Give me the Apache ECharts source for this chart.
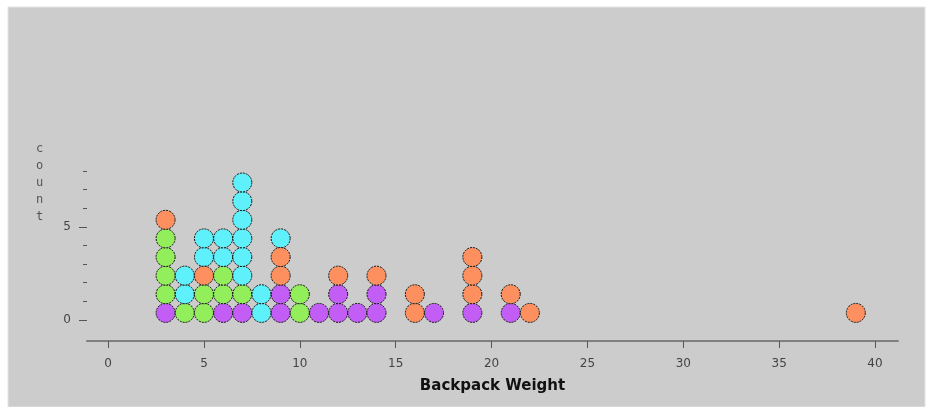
<!DOCTYPE html>
<html><head><meta charset="utf-8">
<script src="https://cdn.jsdelivr.net/npm/echarts@6/dist/echarts.min.js"></script>
<style>html,body{margin:0;padding:0;background:#fff}#c{width:928px;height:407px}</style>
</head><body><div id="c"></div>
<script>
// Backpack weights (x) and the colour of each stacked dot, bottom to top
// P = purple, G = green, C = cyan, O = orange
const weights = [3, 4, 5, 6, 7, 8, 9, 10, 11, 12, 13, 14, 16, 17, 19, 21, 22, 39];
const stacks  = ["PGGGGO", "GCC", "GGOCC", "PGGCC", "PGCCCCCC", "CC", "PPOOC", "GG", "P", "PPO", "P", "PPO", "OO", "P", "POOO", "PO", "O", "O"];
const groupKeys = ["P", "G", "C", "O"];
const groupColors = ["#c25ef5", "#92ee5a", "#5ef0fb", "#fd905e"];
const xTicks = [0, 5, 10, 15, 20, 25, 30, 35, 40];
const yMajor = [0, 5];
const yMinor = [1, 2, 3, 4, 6, 7, 8];

const dotOffset = 0.62; // dot k sits at k - offset on the count axis
const seriesData = groupKeys.map(() => []);
weights.forEach((w, i) => {
  stacks[i].split("").forEach((k, j) => {
    seriesData[groupKeys.indexOf(k)].push([w, j + 1 - dotOffset]);
  });
});

const chart = echarts.init(document.getElementById('c'));
const labelFont = { fontFamily: 'DejaVu Sans', fontSize: 12, color: '#444' };
chart.setOption({
  backgroundColor: '#ffffff',
  animation: false,
  graphic: [
    { type: 'rect', z: -10, shape: { x: 8, y: 7, width: 917, height: 400 },
      style: { fill: '#cccccc', stroke: '#e4e4e4', lineWidth: 1 } },
    { type: 'text', left: 36, top: 140, z: 10,
      style: { text: 'c\no\nu\nn\nt', fontFamily: 'DejaVu Sans Mono', fontSize: 12, lineHeight: 17, fill: '#555', align: 'left' } }
  ],
  grid: { left: 87, right: 30, top: 171, bottom: 66 },
  xAxis: {
    type: 'value', min: -1.1, max: 41.2,
    name: 'Backpack Weight', nameLocation: 'middle', nameGap: 38,
    nameTextStyle: { fontFamily: 'DejaVu Sans', fontWeight: 'bold', fontSize: 15, color: '#111' },
    axisLine: { show: true, onZero: false, lineStyle: { color: '#808080', width: 2 } },
    axisTick: { show: true, length: 7, customValues: xTicks, lineStyle: { color: '#555', width: 1 } },
    axisLabel: Object.assign({ customValues: xTicks, margin: 17 }, labelFont),
    splitLine: { show: false }
  },
  yAxis: [
    {
      type: 'value', min: -1.13, max: 8,
      axisLine: { show: false, onZero: false },
      axisTick: { show: true, length: 8, customValues: yMajor, lineStyle: { color: '#555', width: 1 } },
      axisLabel: Object.assign({ customValues: yMajor, margin: 16 }, labelFont),
      splitLine: { show: false }
    },
    {
      type: 'value', min: -1.13, max: 8, position: 'left',
      axisLine: { show: false, onZero: false },
      axisTick: { show: true, length: 4, customValues: yMinor, lineStyle: { color: '#555', width: 1 } },
      axisLabel: { show: false },
      splitLine: { show: false }
    }
  ],
  series: groupKeys.map((k, gi) => ({
    type: 'scatter', name: k,
    data: seriesData[gi],
    symbol: 'circle', symbolSize: 19,
    itemStyle: { color: groupColors[gi], borderColor: '#111', borderWidth: 1, borderType: [2, 1], opacity: 1 }
  }))
});
</script></body></html>
